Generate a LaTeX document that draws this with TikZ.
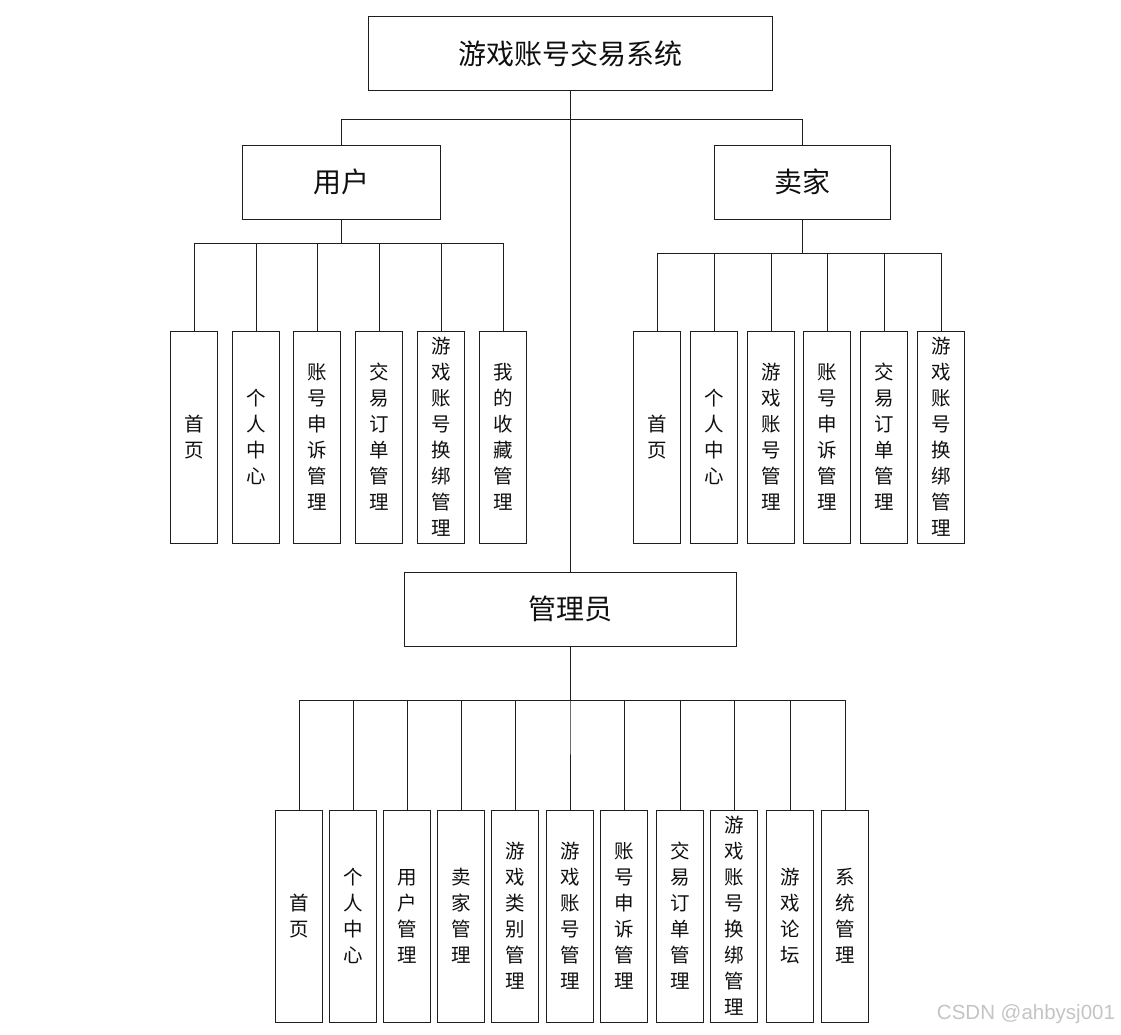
\documentclass[tikz,border=0pt]{standalone}
\usepackage{fontspec}
\usepackage{tikz}
\usetikzlibrary{positioning}
\newfontfamily\cjk{Noto Sans CJK SC}
\newfontfamily\markfont{Liberation Sans}
\definecolor{colorline}{RGB}{30,30,30}
\definecolor{colormark}{RGB}{196,196,196}
\definecolor{colortext}{RGB}{15,15,15}

\begin{document}
\begin{tikzpicture}[
    x=1pt, y=-1pt,
    base/.style={draw=colorline,line width=1pt,text=colortext,align=center,inner sep=0pt,rectangle},
    head/.style={base,font={\cjk\fontsize{28}{32}\selectfont},minimum height=74pt},
    leaf/.style={base,font={\cjk\fontsize{19.5}{26}\selectfont},minimum width=47pt,minimum height=212pt},
    link/.style={draw=colorline,line width=1pt},
]
    \useasboundingbox (0,0) rectangle (1121,1034);

    % Top level
    \node[head,minimum width=404pt] at (570, 53.5) (root) {游戏账号交易系统};
    \node[head,minimum width=198pt] at (341, 182) (user) {用户};
    \node[head,minimum width=176pt] at (802, 182) (seller) {卖家};
    \node[head,minimum width=332pt] at (570, 609) (admin) {管理员};

    % User functions
    \node[leaf] at (194, 437) (u1) {首\\页};
    \node[leaf] at (256, 437) (u2) {个\\人\\中\\心};
    \node[leaf] at (317, 437) (u3) {账\\号\\申\\诉\\管\\理};
    \node[leaf] at (379, 437) (u4) {交\\易\\订\\单\\管\\理};
    \node[leaf] at (441, 437) (u5) {游\\戏\\账\\号\\换\\绑\\管\\理};
    \node[leaf] at (503, 437) (u6) {我\\的\\收\\藏\\管\\理};

    % Seller functions
    \node[leaf] at (657, 437) (s1) {首\\页};
    \node[leaf] at (714, 437) (s2) {个\\人\\中\\心};
    \node[leaf] at (771, 437) (s3) {游\\戏\\账\\号\\管\\理};
    \node[leaf] at (827, 437) (s4) {账\\号\\申\\诉\\管\\理};
    \node[leaf] at (884, 437) (s5) {交\\易\\订\\单\\管\\理};
    \node[leaf] at (941, 437) (s6) {游\\戏\\账\\号\\换\\绑\\管\\理};

    % Admin functions
    \node[leaf] at (299, 916) (a1) {首\\页};
    \node[leaf] at (353, 916) (a2) {个\\人\\中\\心};
    \node[leaf] at (407, 916) (a3) {用\\户\\管\\理};
    \node[leaf] at (461, 916) (a4) {卖\\家\\管\\理};
    \node[leaf] at (515, 916) (a5) {游\\戏\\类\\别\\管\\理};
    \node[leaf] at (570, 916) (a6) {游\\戏\\账\\号\\管\\理};
    \node[leaf] at (624, 916) (a7) {账\\号\\申\\诉\\管\\理};
    \node[leaf] at (680, 916) (a8) {交\\易\\订\\单\\管\\理};
    \node[leaf] at (734, 916) (a9) {游\\戏\\账\\号\\换\\绑\\管\\理};
    \node[leaf] at (790, 916) (a10) {游\\戏\\论\\坛};
    \node[leaf] at (845, 916) (a11) {系\\统\\管\\理};

    % Links
    \draw[link] (root.south) -- (admin.north);
    \draw[link] (user.north) -- ++(0,-25) -| (seller.north);

    \draw[link] (user.south) -- ++(0,24) -| (u1.north);
    \draw[link] (user.south) -- ++(0,24) -| (u2.north);
    \draw[link] (user.south) -- ++(0,24) -| (u3.north);
    \draw[link] (user.south) -- ++(0,24) -| (u4.north);
    \draw[link] (user.south) -- ++(0,24) -| (u5.north);
    \draw[link] (user.south) -- ++(0,24) -| (u6.north);

    \draw[link] (seller.south) -- ++(0,34) -| (s1.north);
    \draw[link] (seller.south) -- ++(0,34) -| (s2.north);
    \draw[link] (seller.south) -- ++(0,34) -| (s3.north);
    \draw[link] (seller.south) -- ++(0,34) -| (s4.north);
    \draw[link] (seller.south) -- ++(0,34) -| (s5.north);
    \draw[link] (seller.south) -- ++(0,34) -| (s6.north);

    \draw[link] (admin.south) -- ++(0,54) -| (a1.north);
    \draw[link] (admin.south) -- ++(0,54) -| (a2.north);
    \draw[link] (admin.south) -- ++(0,54) -| (a3.north);
    \draw[link] (admin.south) -- ++(0,54) -| (a4.north);
    \draw[link] (admin.south) -- ++(0,54) -| (a5.north);
    \draw[link] (admin.south) -- ++(0,54) -| (a6.north);
    \draw[link] (admin.south) -- ++(0,54) -| (a7.north);
    \draw[link] (admin.south) -- ++(0,54) -| (a8.north);
    \draw[link] (admin.south) -- ++(0,54) -| (a9.north);
    \draw[link] (admin.south) -- ++(0,54) -| (a10.north);
    \draw[link] (admin.south) -- ++(0,54) -| (a11.north);

    % Watermark
    \node[text=colormark,font={\markfont\fontsize{20.5}{24}\selectfont},inner sep=0pt] at (1026, 1014) (mark) {CSDN @ahbysj001};

\end{tikzpicture}
\end{document}
